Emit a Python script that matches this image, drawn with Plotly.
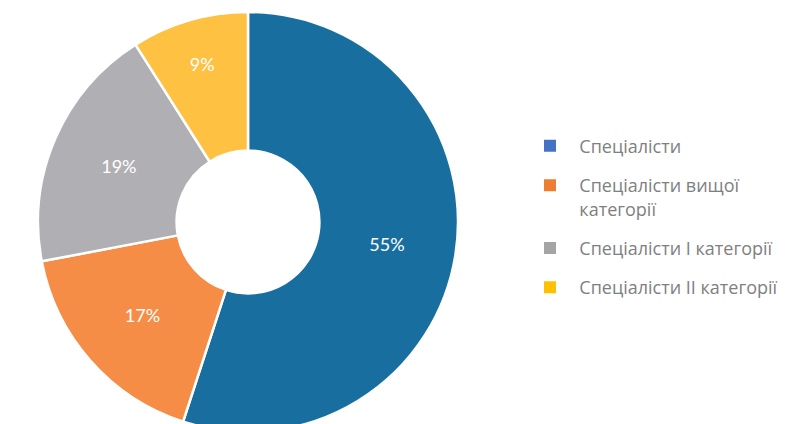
import plotly.graph_objects as go

categories = ["Спеціалісти", "Спеціалісти вищої категорії", "Спеціалісти I категорії", "Спеціалісти II категорії"]
shares = [55, 17, 19, 9]
legend_labels = ["Спеціалісти", "Спеціалісти вищої<br>категорії", "Спеціалісти I категорії", "Спеціалісти II категорії"]
slice_colors = ["#186f9f", "#f58d46", "#b0b0b4", "#fec142"]
legend_colors = ["#4472c4", "#ed7d31", "#a5a5a5", "#ffc000"]

fig = go.Figure()

fig.add_trace(go.Pie(
    labels=categories, values=shares, sort=False, direction="clockwise", rotation=0,
    hole=0.34, marker=dict(colors=slice_colors, line=dict(color="white", width=2.5)),
    texttemplate="%{value}%", textinfo="text", textposition="inside",
    insidetextorientation="horizontal",
    textfont=dict(family="Lato", size=18, color="white"),
    domain=dict(x=[30 / 798, 450 / 798], y=[0, 1]),
    showlegend=False, hoverinfo="label+percent",
))

# legend uses its own swatches, lighter than the slices
pad = "\u00a0\u00a0"
for i, (lab, col) in enumerate(zip(legend_labels, legend_colors)):
    fig.add_trace(go.Scatter(
        x=[None], y=[None], mode="markers",
        name=pad + lab.replace("<br>", "<br>" + pad),
        legendgroup=str(i),
        marker=dict(symbol="square", size=11, color=col),
    ))

fig.update_layout(
    width=798, height=424,
    margin=dict(l=0, r=0, t=4, b=0),
    paper_bgcolor="white", plot_bgcolor="white",
    xaxis=dict(visible=False), yaxis=dict(visible=False),
    legend=dict(
        x=522 / 798, xanchor="left", y=0.513, yanchor="middle",
        font=dict(family="Open Sans", size=18, color="#7f7f7f"),
        tracegroupgap=13, valign="top", itemsizing="constant",
    ),
)

fig.write_html("out.html")
